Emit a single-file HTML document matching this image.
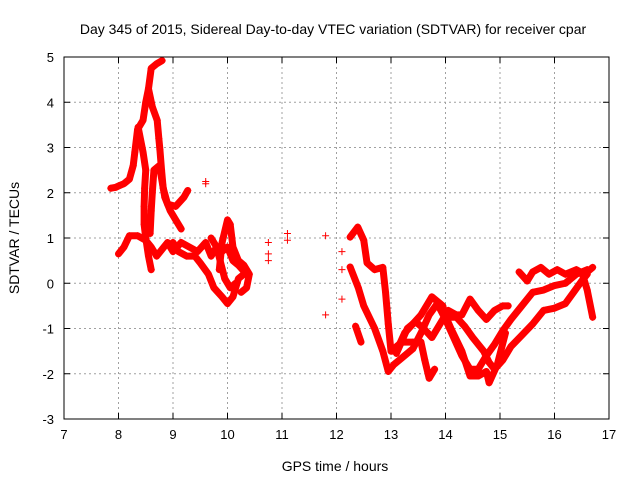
<!DOCTYPE html>
<html><head><meta charset="utf-8"><style>
body{margin:0;background:#fff}
svg{display:block;font-family:"Liberation Sans",sans-serif}
</style></head><body>
<svg id="c" width="640" height="480">
<rect width="640" height="480" fill="#fff"/>
<text x="333" y="34" font-size="14" text-anchor="middle">Day 345 of 2015, Sidereal Day-to-day VTEC variation (SDTVAR) for receiver cpar</text>
<text x="335" y="471" font-size="14" text-anchor="middle">GPS time / hours</text>
<text transform="translate(19,238) rotate(-90)" font-size="14" text-anchor="middle">SDTVAR / TECUs</text>
<g id="grid"></g><g id="marks"></g><g id="axes"></g>
</svg>
<script>
const xTicks=[7,8,9,10,11,12,13,14,15,16,17];
const yTicks=[-3,-2,-1,0,1,2,3,4,5];
const traceL1=[[7.86,2.1],[7.95,2.12],[8.0,2.15],[8.1,2.2],[8.2,2.3],[8.27,2.6],[8.3,2.9],[8.35,3.4],[8.45,3.6],[8.5,4.0],[8.55,4.3],[8.6,4.75],[8.7,4.85],[8.8,4.92]];
const traceL2=[[8.55,4.3],[8.62,3.9],[8.71,3.6],[8.74,3.2],[8.76,2.95],[8.79,2.5],[8.82,2.1],[8.9,1.75],[9.05,1.7],[9.2,1.9],[9.27,2.05]];
const traceL3=[[8.36,3.45],[8.45,2.9],[8.5,2.5],[8.48,2.1],[8.47,1.7],[8.47,1.3],[8.5,1.0],[8.55,0.6],[8.6,0.3]];
const traceL4=[[8.58,1.1],[8.6,1.6],[8.62,2.0],[8.65,2.5],[8.75,2.6],[8.85,1.9],[8.95,1.6],[9.05,1.4],[9.15,1.2]];
const traceL5=[[8.0,0.65],[8.1,0.8],[8.2,1.05],[8.35,1.05],[8.5,0.95],[8.6,0.8],[8.7,0.6],[8.8,0.75],[8.9,0.9],[9.0,0.7],[9.15,0.9],[9.3,0.8],[9.45,0.7],[9.6,0.9],[9.7,0.6],[9.8,0.8],[9.9,0.7],[10.0,0.8],[10.1,0.5],[10.2,0.4],[10.35,0.2]];
const traceL6=[[9.0,0.9],[9.1,0.7],[9.25,0.6],[9.4,0.6],[9.5,0.45],[9.65,0.2],[9.75,-0.1],[9.9,-0.3],[10.0,-0.45],[10.1,-0.3],[10.2,0.1],[10.3,0.2]];
const traceL7=[[9.85,0.3],[9.9,0.9],[10.0,1.4],[10.05,1.3],[10.1,0.8],[10.2,0.5],[10.3,0.4],[10.4,0.2],[10.35,-0.1],[10.25,-0.2]];
const traceL8=[[9.7,1.0],[9.8,0.8],[9.95,0.1],[10.05,-0.1],[10.15,0.0]];
const traceR1=[[12.25,0.36],[12.4,-0.1],[12.5,-0.5],[12.7,-1.0],[12.85,-1.5],[12.95,-1.95],[13.05,-1.8],[13.2,-1.65],[13.4,-1.45],[13.55,-1.1],[13.7,-0.7],[13.85,-0.45],[14.0,-0.8],[14.15,-1.2],[14.3,-1.6],[14.45,-1.9],[14.6,-1.9],[14.75,-1.6],[14.9,-1.35],[15.05,-1.05],[15.2,-0.8],[15.4,-0.5],[15.6,-0.2],[15.8,-0.15],[16.0,-0.05],[16.2,0.0],[16.4,0.2],[16.6,0.3]];
const traceR2=[[12.25,1.02],[12.39,1.24],[12.5,0.95],[12.56,0.45],[12.7,0.3],[12.85,0.35],[12.9,-0.2],[12.95,-0.9],[13.0,-1.5],[13.1,-1.5],[13.25,-1.1],[13.4,-0.9],[13.55,-0.7],[13.65,-0.5],[13.75,-0.3],[13.85,-0.4],[13.95,-0.5],[14.0,-0.75],[14.2,-0.75],[14.35,-0.95],[14.5,-1.2],[14.7,-1.5],[14.8,-1.75],[14.9,-1.9],[15.05,-1.7],[15.2,-1.4],[15.4,-1.15],[15.6,-0.9],[15.8,-0.6],[16.0,-0.55],[16.2,-0.45],[16.35,-0.2],[16.5,0.05],[16.6,0.2]];
const traceR3=[[13.1,-1.55],[13.3,-1.0],[13.45,-0.85],[13.6,-1.0],[13.75,-1.2],[13.9,-0.9],[14.05,-0.6],[14.2,-0.7],[14.3,-0.7],[14.45,-0.35],[14.6,-0.6],[14.75,-0.8],[14.9,-0.6],[15.05,-0.5],[15.15,-0.5]];
const traceR4=[[13.0,-1.5],[13.2,-1.3],[13.4,-1.3],[13.55,-1.3],[13.62,-1.7],[13.7,-2.1],[13.8,-1.9]];
const traceR5=[[13.9,-0.45],[14.1,-1.0],[14.3,-1.5],[14.45,-2.05],[14.6,-2.05],[14.75,-1.95],[14.8,-2.2],[14.95,-1.8],[15.1,-1.1]];
const traceR6=[[15.35,0.25],[15.5,0.05],[15.6,0.25],[15.75,0.35],[15.9,0.2],[16.05,0.3],[16.2,0.2],[16.4,0.3],[16.55,0.2],[16.7,0.35]];
const traceR7=[[16.5,0.25],[16.6,-0.15],[16.7,-0.75]];
const traceR8=[[12.35,-0.95],[12.45,-1.3]];
const isolated=[[10.75,0.9],[10.75,0.65],[10.75,0.5],[11.1,1.1],[11.1,0.95],[11.8,1.05],[11.8,-0.7],[12.1,0.7],[12.1,0.3],[12.1,-0.35],[9.6,2.2],[9.6,2.25]];
const traces=[traceL1,traceL2,traceL3,traceL4,traceL5,traceL6,traceL7,traceL8,traceR1,traceR2,traceR3,traceR4,traceR5,traceR6,traceR7,traceR8];

const X0=64,X1=609,Y0=419,Y1=57;
const xs=t=>X0+(t-7)/(17-7)*(X1-X0);
const ys=v=>Y0-(v+3)/8*(Y0-Y1);
const NS="http://www.w3.org/2000/svg";
const grid=document.getElementById('grid'),marks=document.getElementById('marks'),axes=document.getElementById('axes');
function mk(tag,attrs,parent){const e=document.createElementNS(NS,tag);for(const k in attrs)e.setAttribute(k,attrs[k]);parent.appendChild(e);return e;}
xTicks.forEach(t=>{const x=xs(t);
 if(t>7&&t<17){const g=mk('line',{x1:x,x2:x,y1:Y1,y2:Y0,stroke:'#a0a0a0','stroke-dasharray':'2,3'},grid);}
 mk('line',{x1:x,x2:x,y1:Y0,y2:Y0-6,stroke:'#000'},axes);mk('line',{x1:x,x2:x,y1:Y1,y2:Y1+6,stroke:'#000'},axes);
 const l=mk('text',{x:x,y:Y0+20,'font-size':13,'text-anchor':'middle'},axes);l.textContent=t;
 });
yTicks.forEach(v=>{const y=ys(v);
 if(v>-3&&v<5){const g=mk('line',{x1:X0,x2:X1,y1:y,y2:y,stroke:'#a0a0a0','stroke-dasharray':'2,3'},grid);}
 mk('line',{x1:X0,x2:X0+6,y1:y,y2:y,stroke:'#000'},axes);mk('line',{x1:X1,x2:X1-6,y1:y,y2:y,stroke:'#000'},axes);
 const l=mk('text',{x:X0-10,y:y+5,'font-size':13,'text-anchor':'end'},axes);l.textContent=v;
 });
const fr=mk('rect',{x:X0,y:Y1,width:X1-X0,height:Y0-Y1,fill:'none',stroke:'#000'},axes);

function plus(t,v){const x=xs(t),y=ys(v);
 const p=mk('path',{d:`M${x-3.5},${y}H${x+3.5}M${x},${y-3.5}V${y+3.5}`,stroke:'#f00','stroke-width':1},marks);
 }
traces.forEach(tr=>{
 const pl=mk('polyline',{points:tr.map(p=>xs(p[0])+','+ys(p[1])).join(' '),fill:'none',stroke:'#f00','stroke-width':7,'stroke-linejoin':'round','stroke-linecap':'round'},marks);
 
 tr.forEach(p=>plus(p[0],p[1]));});
isolated.forEach(p=>plus(p[0],p[1]));
</script>
</body></html>
